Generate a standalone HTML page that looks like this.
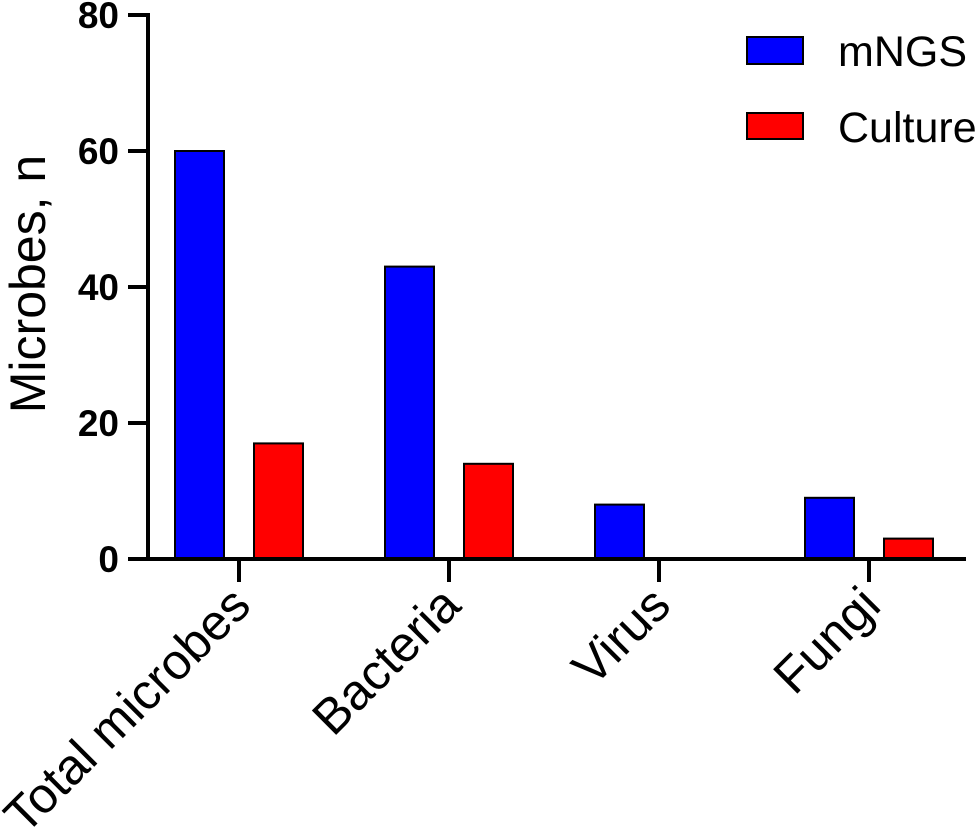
<!DOCTYPE html>
<html><head><meta charset="utf-8"><style>
body{margin:0;background:#fff;}
svg{display:block;font-family:"Liberation Sans",Arial,sans-serif;}
</style></head><body>
<svg id="chart" width="975" height="832" viewBox="0 0 975 832">
<g id="bars"></g>
<g id="axes"></g>
<g>
<rect x="747" y="37" width="56" height="27" fill="#0000ff" stroke="#000" stroke-width="2"/>
<text x="838" y="66" font-size="43">mNGS</text>
<rect x="747" y="113" width="56" height="26" fill="#ff0000" stroke="#000" stroke-width="2"/>
<text x="838" y="142" font-size="43">Culture</text>
</g>
<text transform="translate(45,284) rotate(-90)" text-anchor="middle" font-size="50">Microbes, n</text>
</svg>
<script>
const categories=["Total microbes","Bacteria","Virus","Fungi"];
const mngsValues=[60,43,8,9];
const cultureValues=[17,14,0,3];
const yTicks=[0,20,40,60,80];
const NS="http://www.w3.org/2000/svg";
const y0=559,yTop=15,yMax=80;
function yScale(v){return y0-(v/yMax)*(y0-yTop);}
const groupW=210,firstCenter=239;
function xCenter(i){return firstCenter+i*groupW;}
function mk(tag,attrs,parent){const e=document.createElementNS(NS,tag);for(const k in attrs)e.setAttribute(k,attrs[k]);parent.appendChild(e);return e;}
const bars=document.getElementById('bars'),axes=document.getElementById('axes');
categories.forEach((c,i)=>{
  const cx=xCenter(i);
  [[mngsValues[i],"#0000ff",-64,'bar-mngs-'],[cultureValues[i],"#ff0000",15,'bar-culture-']].forEach(([v,col,off,nm])=>{
    if(v<=0)return;
    const r=mk('rect',{x:cx+off,y:yScale(v),width:49,height:y0-yScale(v),fill:col,stroke:"#000","stroke-width":2},bars);
    
    
  });
  const t=mk('line',{x1:cx,x2:cx,y1:y0,y2:582,stroke:"#000","stroke-width":4},axes);
  
  
  const l=mk('text',{transform:`translate(${cx+14},${608}) rotate(-45)`,"text-anchor":"end","font-size":50},axes);
  l.textContent=c;
  
  
});
yTicks.forEach(v=>{
  const y=yScale(v);
  const t=mk('line',{x1:128,x2:148,y1:y,y2:y,stroke:"#000","stroke-width":4},axes);
  
  
  const l=mk('text',{x:119,y:y+13,"text-anchor":"end","font-size":37,"font-weight":"bold"},axes);
  l.textContent=v;
  
  
});
const ya=mk('line',{x1:148,x2:148,y1:13,y2:561,stroke:"#000","stroke-width":4},axes);


const xa=mk('line',{x1:146,x2:966,y1:y0,y2:y0,stroke:"#000","stroke-width":4},axes);


</script>
</body></html>
